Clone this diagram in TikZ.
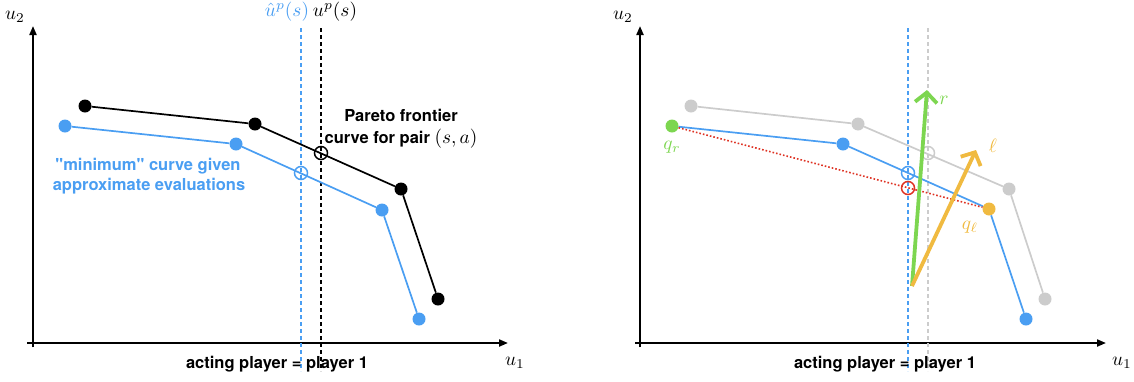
\documentclass[tikz,border=0pt]{standalone}
\usepackage{graphicx}
\usepackage{fontspec}
\setmainfont{TeX Gyre Heros}[Ligatures=TeXOff]
\usetikzlibrary{arrows.meta}
\definecolor{cblue}{RGB}{74,158,242}
\definecolor{cgreen}{RGB}{125,214,80}
\definecolor{cyellow}{RGB}{240,186,64}
\definecolor{cgray}{RGB}{204,204,204}
\definecolor{cred}{RGB}{222,50,35}
\newcommand\mth[1]{{\fontsize{10}{12}\selectfont\scalebox{1.93}{$#1$}}}
\tikzset{
  dot/.style={circle, inner sep=0pt, minimum size=13pt, draw=none},
  ring/.style={circle, inner sep=0pt, minimum size=13pt, line width=1.5pt},
  curve/.style={line width=1.7pt},
  axis/.style={line width=2pt, -{Triangle[length=9pt,width=7pt]}},
  vdash/.style={line width=2pt, dash pattern=on 4pt off 3pt},
  bigarrow/.style={line width=3.8pt, -{Straight Barb[length=10pt,width=22pt,line width=3.8pt]}},
  lbl/.style={inner sep=0pt, font=\fontsize{16.5}{19}\selectfont\bfseries},
  mlbl/.style={inner sep=0pt},
}
\begin{document}
\begin{tikzpicture}[x=1pt,y=-1pt]
\useasboundingbox (0,0) rectangle (1134,381);
% ================= LEFT PANEL =================
\coordinate (lyt) at (33,26);
\coordinate (lxt) at (508,343);
\draw[line width=2pt] (33,347) -- (33,343);
\draw[axis] (33,347) -- (lyt);
\draw[axis] (27,343) -- (lxt);
\node[mlbl] (lu2) at (15,17) {\mth{u_2}};
\node[mlbl] (lu1) at (515,363) {\mth{u_1}};
% vertical dashed lines
\coordinate (lbt) at (301,28); \coordinate (lbb) at (301,371);
\coordinate (lkt) at (321,28); \coordinate (lkb) at (321,371);
\draw[vdash, cblue] (lbt) -- (lbb);
\draw[vdash, black] (lkt) -- (lkb);
\node[mlbl, text=cblue] (luhat) at (287,12) {\mth{\hat{u}^p(s)}};
\node[mlbl] (lup) at (335,12) {\mth{u^p(s)}};
% black curve
\node[dot, fill=black] (b1) at (85,106) {};
\node[dot, fill=black] (b2) at (255,124) {};
\node[dot, fill=black] (b3) at (401,189) {};
\node[dot, fill=black] (b4) at (438,299) {};
\draw[curve, black] (b1) -- (b2) -- (b3) -- (b4);
% blue curve
\node[dot, fill=cblue] (a1) at (65,126) {};
\node[dot, fill=cblue] (a2) at (236,144) {};
\node[dot, fill=cblue] (a3) at (382,210) {};
\node[dot, fill=cblue] (a4) at (419,319) {};
\draw[curve, cblue] (a1) -- (a2) -- (a3) -- (a4);
% open circles
\node[ring, draw=black] (bx) at (321,153) {};
\node[ring, draw=cblue] (ax) at (301,173) {};
% texts
\node[lbl] (par1) at (401,115) {Pareto frontier};
\node[lbl] (par2) at (401,139) {curve for pair \mth{(s,a)}};
\node[lbl, text=cblue] (min1) at (148,166) {"minimum" curve given};
\node[lbl, text=cblue] (min2) at (149,186) {approximate evaluations};
\node[lbl] (act1) at (277,364) {acting player = player 1};
% ================= RIGHT PANEL =================
\coordinate (ryt) at (640,26);
\coordinate (rxt) at (1106,343);
\draw[line width=2pt] (640,347) -- (640,343);
\draw[axis] (640,347) -- (ryt);
\draw[axis] (635,343) -- (rxt);
\node[mlbl] (ru2) at (623,17) {\mth{u_2}};
\node[mlbl] (ru1) at (1122,363) {\mth{u_1}};
% vertical dashed lines
\coordinate (rbt) at (908,28); \coordinate (rbb) at (908,371);
\coordinate (rgt) at (928,28); \coordinate (rgb) at (928,371);
\draw[vdash, cblue] (rbt) -- (rbb);
\draw[vdash, cgray] (rgt) -- (rgb);
% gray curve
\node[dot, fill=cgray] (g1) at (691,106) {};
\node[dot, fill=cgray] (g2) at (858,124) {};
\node[dot, fill=cgray] (g3) at (1009,189) {};
\node[dot, fill=cgray] (g4) at (1045,299) {};
\draw[curve, cgray] (g1) -- (g2) -- (g3) -- (g4);
% blue curve
\node[dot, fill=cgreen] (qr) at (672,126) {};
\node[dot, fill=cblue] (c2) at (843,144) {};
\node[dot, fill=cyellow] (ql) at (989,209) {};
\node[dot, fill=cblue] (c4) at (1026,319) {};
\draw[curve, cblue] (qr) -- (c2) -- (ql) -- (c4);
% red dotted
\draw[cred, line width=1.6pt, dash pattern=on 1.6pt off 2pt] (qr) -- (ql);
% open circles
\node[ring, draw=cgray] (gx) at (928,153) {};
\node[ring, draw=cblue] (cx) at (908,173) {};
\node[ring, draw=cred] (rx) at (908,188) {};
% arrows
\coordinate (o) at (912,286);
\coordinate (rtip) at (927,90);
\coordinate (ltip) at (976,150);
\draw[bigarrow, cgreen] (o) -- (rtip);
\draw[bigarrow, cyellow] (o) -- (ltip);
\node[mlbl, text=cgreen] (rl) at (944,100) {\mth{r}};
\node[mlbl, text=cyellow] (ll) at (993,146) {\mth{\ell}};
\node[mlbl, text=cgreen] (qrl) at (672,147) {\mth{q_r}};
\node[mlbl, text=cyellow] (qll) at (970,227) {\mth{q_\ell}};
\node[lbl] (act2) at (885,364) {acting player = player 1};
\end{tikzpicture}
\end{document}
